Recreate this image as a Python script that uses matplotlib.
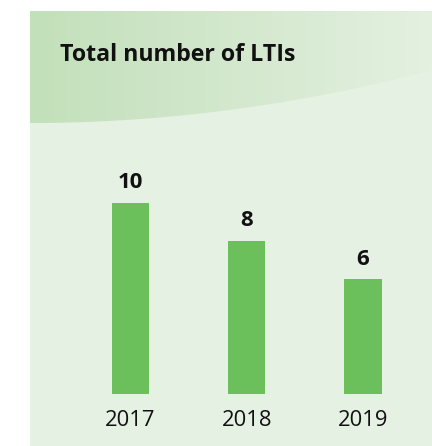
import matplotlib
matplotlib.use("Agg")
import matplotlib.pyplot as plt
import numpy as np
from matplotlib.patches import Rectangle, Polygon

years = ["2017", "2018", "2019"]
ltis = [10, 8, 6]
title = "Total number of LTIs"

W, H = 432, 446
plt.rcParams['font.family'] = ['Open Sans', 'DejaVu Sans']

fig = plt.figure(figsize=(W / 100, H / 100), dpi=100)
fig.patch.set_facecolor('white')

# background panel, drawn in pixel coords
bg = fig.add_axes([0, 0, 1, 1])
bg.set_xlim(0, W)
bg.set_ylim(H, 0)
bg.axis('off')
bg.add_patch(Rectangle((30, 11), W - 30, H - 11, color='#e5f1e2', lw=0, zorder=0))

# top band with horizontal gradient and curved lower edge
xs = np.linspace(30, W, 100)
ys = 123 - 3.28e-4 * (xs - 30) ** 2
verts = [(30, 11), (W, 11)] + list(zip(xs[::-1], ys[::-1]))
band = Polygon(verts, closed=True, facecolor='none', edgecolor='none')
bg.add_patch(band)
grad = np.linspace(0, 1, 256).reshape(1, -1)
c0 = np.array([0xc2, 0xe0, 0xba]) / 255
c1 = np.array([0xe4, 0xf0, 0xe0]) / 255
img = c0[None, None, :] * (1 - grad[..., None]) + c1[None, None, :] * grad[..., None]
im = bg.imshow(img, extent=(30, W, 125, 11), aspect='auto',
               interpolation='bilinear', zorder=2)
im.set_clip_path(band)
bg.set_xlim(0, W)
bg.set_ylim(H, 0)

bg.text(60, 61, title, fontsize=16.7, fontweight='bold', color='#111111',
        va='baseline', ha='left', zorder=3)

# bar chart
left_px, right_px = 72.4, 421.0
base_px, top_px = 393.5, 202.7
ax = fig.add_axes([left_px / W, (H - base_px) / H,
                   (right_px - left_px) / W, (base_px - top_px) / H])
ax.patch.set_alpha(0)
x = np.arange(len(years))
bars = ax.bar(x, ltis, width=0.323, color='#6cc05c')
ax.set_xlim(-0.5, 2.5)
ax.set_ylim(0, 10)
for b, v in zip(bars, ltis):
    ax.annotate(str(v), (b.get_x() + b.get_width() / 2, v), xytext=(0, 10.4),
                textcoords='offset points', ha='center', va='baseline',
                fontsize=16, fontweight='bold', color='#111111')
ax.set_xticks(x)
ax.set_xticklabels(years, fontsize=15.8, color='#111111')
ax.tick_params(axis='x', length=0, pad=12)
ax.set_yticks([])
for s in ax.spines.values():
    s.set_visible(False)

fig.savefig('out.png', dpi=100, facecolor='white')
